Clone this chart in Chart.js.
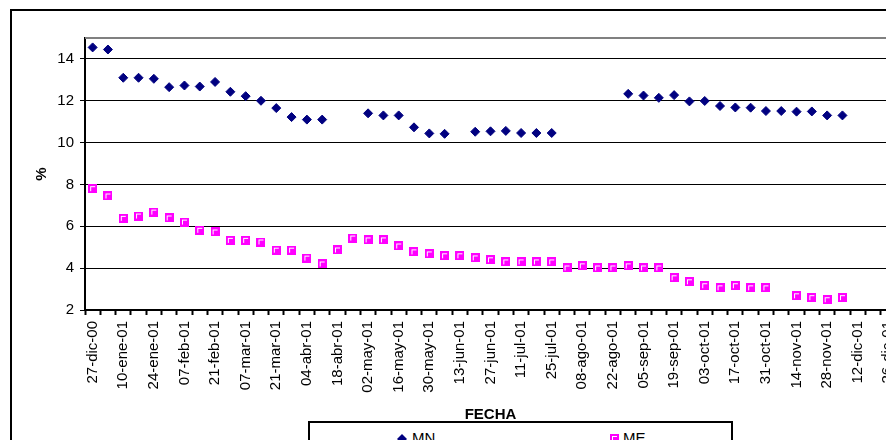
<!DOCTYPE html>
<html>
<head>
<meta charset="utf-8">
<script src="https://cdn.jsdelivr.net/npm/chart.js@4/dist/chart.umd.min.js"></script>
<style>
    body { margin: 0; overflow: hidden; background: #fff; font-family: "Liberation Sans", Arial, sans-serif; }
    #chart { position: absolute; left: 0; top: 0; }
    .frame { position: absolute; left: 10px; top: 9px; width: 1000px; height: 600px; border: 2px solid #000; pointer-events: none; }
    .legend { position: absolute; left: 308px; top: 421px; width: 421px; height: 60px; border: 2px solid #000; background: #fff; }
    .legend-item { position: absolute; top: 6px; font-size: 15px; color: #000; white-space: nowrap; }
    .legend-item canvas { position: absolute; }
</style>
</head>
<body>
<canvas id="chart" width="930" height="440"></canvas>
<div class="frame"></div>
<div class="legend">
    <div class="legend-item" style="left: 88px;"><canvas id="mark-mn" width="10" height="10" style="left: -1px; top: 5px;"></canvas><span style="margin-left: 14px;">MN</span></div>
    <div class="legend-item" style="left: 298px;"><canvas id="mark-me" width="9" height="9" style="left: 2px; top: 5px;"></canvas><span style="margin-left: 15px;">ME</span></div>
</div>
<script>
// Weekly dates (category axis)
const fechas = [
    '27-dic-00', '03-ene-01', '10-ene-01', '17-ene-01', '24-ene-01', '31-ene-01',
    '07-feb-01', '14-feb-01', '21-feb-01', '28-feb-01', '07-mar-01', '14-mar-01',
    '21-mar-01', '28-mar-01', '04-abr-01', '11-abr-01', '18-abr-01', '25-abr-01',
    '02-may-01', '09-may-01', '16-may-01', '23-may-01', '30-may-01', '06-jun-01',
    '13-jun-01', '20-jun-01', '27-jun-01', '04-jul-01', '11-jul-01', '18-jul-01',
    '25-jul-01', '01-ago-01', '08-ago-01', '15-ago-01', '22-ago-01', '29-ago-01',
    '05-sep-01', '12-sep-01', '19-sep-01', '26-sep-01', '03-oct-01', '10-oct-01',
    '17-oct-01', '24-oct-01', '31-oct-01', '07-nov-01', '14-nov-01', '21-nov-01',
    '28-nov-01', '05-dic-01', '12-dic-01', '19-dic-01', '26-dic-01'
];

// Moneda nacional (%)
const valoresMN = [
    14.55, 14.45, 13.1, 13.1, 13.05, 12.65, 12.73, 12.68, 12.9, 12.43,
    12.22, 12.0, 11.65, 11.22, 11.1, 11.1, null, null, 11.4, 11.3,
    11.3, 10.73, 10.44, 10.42, null, 10.52, 10.54, 10.56, 10.46, 10.46,
    10.46, null, null, null, null, 12.33, 12.25, 12.14, 12.27, 11.97,
    11.99, 11.75, 11.68, 11.67, 11.51, 11.51, 11.48, 11.49, 11.3, 11.3,
    null, null, null
];

// Moneda extranjera (%)
const valoresME = [
    7.8, 7.45, 6.38, 6.49, 6.68, 6.4, 6.2, 5.81, 5.73, 5.33,
    5.33, 5.25, 4.86, 4.86, 4.48, 4.2, 4.87, 5.44, 5.35, 5.35,
    5.06, 4.78, 4.68, 4.59, 4.59, 4.49, 4.4, 4.3, 4.3, 4.3,
    4.3, 4.01, 4.11, 4.01, 4.01, 4.11, 4.01, 4.01, 3.54, 3.35,
    3.16, 3.06, 3.16, 3.06, 3.06, null, 2.68, 2.59, 2.49, 2.59,
    null, null, null
];

const yTicks = [2, 4, 6, 8, 10, 12, 14];
const yMin = 2;
const yMax = 15;

const FONT = '"Liberation Sans", Arial, sans-serif';
const NAVY = '#000080';
const MAGENTA = '#FF00FF';

// Excel style square marker: magenta with a white inner corner
function drawSquareMarker(canvas) {
    const ctx = canvas.getContext('2d');
    ctx.fillStyle = MAGENTA;
    ctx.fillRect(0, 0, 9, 9);
    ctx.fillStyle = '#fff';
    ctx.fillRect(2, 2, 5, 1);
    ctx.fillRect(2, 2, 1, 5);
    return canvas;
}

function drawDiamondMarker(canvas) {
    const ctx = canvas.getContext('2d');
    ctx.fillStyle = NAVY;
    ctx.beginPath();
    ctx.moveTo(5, 0);
    ctx.lineTo(10, 5);
    ctx.lineTo(5, 10);
    ctx.lineTo(0, 5);
    ctx.closePath();
    ctx.fill();
}

const squareMarker = document.createElement('canvas');
squareMarker.width = 9;
squareMarker.height = 9;
drawSquareMarker(squareMarker);
drawSquareMarker(document.getElementById('mark-me'));
drawDiamondMarker(document.getElementById('mark-mn'));

// Gray top border of the plot area
const plotTopBorder = {
    id: 'plotTopBorder',
    afterDraw(chart) {
        const { ctx, chartArea } = chart;
        ctx.save();
        ctx.strokeStyle = '#808080';
        ctx.lineWidth = 2;
        ctx.beginPath();
        ctx.moveTo(chartArea.left, chartArea.top);
        ctx.lineTo(chartArea.right + 40, chartArea.top);
        ctx.stroke();
        ctx.restore();
    }
};

new Chart(document.getElementById('chart'), {
    type: 'line',
    data: {
        labels: fechas,
        datasets: [
            {
                label: 'MN',
                data: valoresMN,
                showLine: false,
                pointStyle: 'rectRot',
                pointRadius: 4.5,
                pointBorderWidth: 1,
                backgroundColor: NAVY,
                borderColor: NAVY
            },
            {
                label: 'ME',
                data: valoresME,
                showLine: false,
                pointStyle: squareMarker,
                pointRadius: 5,
                backgroundColor: MAGENTA,
                borderColor: MAGENTA
            }
        ]
    },
    options: {
        responsive: false,
        animation: false,
        layout: { padding: { top: 38, right: 34, left: 0, bottom: 0 } },
        plugins: {
            legend: { display: false },
            tooltip: { enabled: false }
        },
        scales: {
            x: {
                offset: true,
                grid: {
                    offset: true,
                    drawOnChartArea: false,
                    drawTicks: true,
                    tickLength: 5,
                    tickColor: '#000',
                    tickWidth: 2
                },
                border: { color: '#000', width: 2 },
                ticks: {
                    autoSkip: false,
                    minRotation: 90,
                    maxRotation: 90,
                    padding: 6,
                    color: '#000',
                    font: { family: FONT, size: 15 },
                    callback: (v, i) => (i % 2 === 0 ? fechas[i] : '')
                },
                title: {
                    display: true,
                    text: 'FECHA',
                    color: '#000',
                    font: { family: FONT, size: 15, weight: 'bold' },
                    padding: { top: 0, bottom: 16 }
                },
                afterFit: (scale) => { scale.height = 130; }
            },
            y: {
                min: yMin,
                max: yMax,
                bounds: 'data',
                grid: {
                    color: '#000',
                    lineWidth: 1,
                    tickLength: 5,
                    tickColor: '#000'
                },
                border: { color: '#000', width: 2 },
                ticks: {
                    stepSize: 2,
                    includeBounds: false,
                    padding: 6,
                    color: '#000',
                    font: { family: FONT, size: 15 }
                },
                afterBuildTicks: (scale) => {
                    scale.ticks = yTicks.map(value => ({ value }));
                },
                title: {
                    display: true,
                    text: '%',
                    color: '#000',
                    font: { family: FONT, size: 15, weight: 'bold' },
                    padding: { top: 33, bottom: 0 }
                },
                afterFit: (scale) => { scale.width = 85; }
            }
        }
    },
    plugins: [plotTopBorder]
});
</script>
</body>
</html>
